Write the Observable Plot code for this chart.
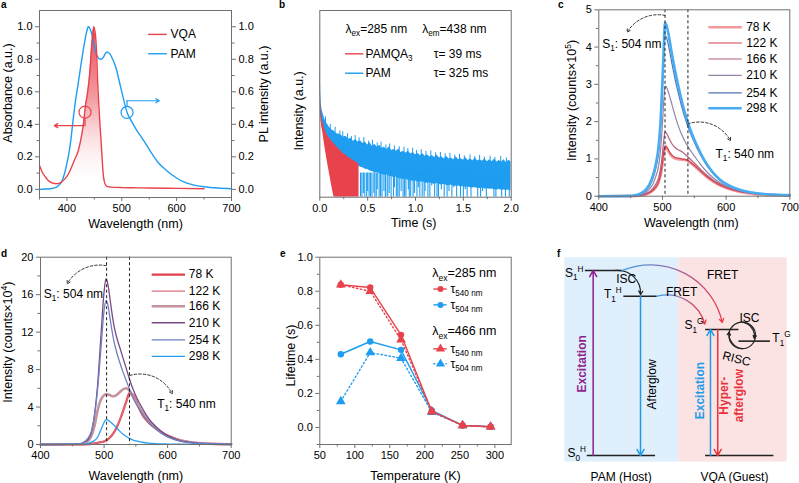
<!DOCTYPE html>
<html>
<head>
<meta charset="utf-8">
<script src="https://cdn.jsdelivr.net/npm/d3@7"></script>
<script src="https://cdn.jsdelivr.net/npm/@observablehq/plot@0.6"></script>
<style>
html,body{margin:0;padding:0;background:#fff;}
#fig{position:relative;width:799px;height:483px;overflow:hidden;background:#fff;font-family:"Liberation Sans",Arial,Helvetica,sans-serif;}
#fig svg{position:absolute;}
.pl{position:absolute;font-weight:bold;font-size:10px;line-height:10px;color:#000;}
</style>
</head>
<body>
<div id="fig"></div>
<script>
// ================= DATA =================
// Panel a: VQA absorbance, PAM photoluminescence
const aWlVQA = [350,352,355,360,365,370,375,380,385,390,395,400,405,410,415,420,425,430,434,437,440,442,444,446,448,449,450,452,454,456,458,460,462,464,466,468,470,473,476,480,490,500,520,550,600,650];
const aAbsVQA = [0.147,0.13,0.105,0.08,0.058,0.045,0.038,0.035,0.037,0.045,0.06,0.08,0.11,0.15,0.19,0.23,0.30,0.40,0.52,0.58,0.66,0.73,0.83,0.92,0.98,1.0,0.99,0.95,0.85,0.66,0.53,0.41,0.31,0.2,0.1,0.05,0.03,0.018,0.015,0.014,0.012,0.011,0.01,0.008,0.006,0.004];
const aWlPAM = [350,360,370,380,385,390,395,400,403,407,411,415,420,424,428,433,436,439,441,443,445,447,450,452,455,458,462,466,470,473,476,479,482,486,490,495,500,505,510,515,520,527,533,540,551,565,582,600,612,630,650,675,700];
const aPLPAM = [0.0,0.002,0.004,0.012,0.025,0.045,0.09,0.16,0.21,0.3,0.42,0.53,0.64,0.73,0.82,0.92,0.97,1.0,0.995,0.98,0.96,0.93,0.88,0.85,0.82,0.805,0.8,0.81,0.835,0.845,0.84,0.83,0.81,0.78,0.74,0.67,0.6,0.53,0.47,0.435,0.405,0.365,0.335,0.3,0.24,0.17,0.115,0.07,0.047,0.028,0.016,0.008,0.004];
const aFillRange = [392, 476];
const aLegend = ["VQA", "PAM"];
const aLegendY = [0.953, 0.834];

// Panel b: decay curves (time in s, relative log intensity 0..1)
const bT = [0,0.005,0.01,0.015,0.02,0.025,0.05,0.075,0.1,0.125,0.15,0.175,0.2,0.225,0.25,0.275,0.3,0.325,0.35,0.375,0.4,0.425,0.45,0.475,0.5,0.525,0.55,0.575,0.6,0.625,0.65,0.675,0.7,0.725,0.75,0.775,0.8,0.825,0.85,0.875,0.9,0.925,0.95,0.975,1.0,1.025,1.05,1.075,1.1,1.125,1.15,1.175,1.2,1.225,1.25,1.275,1.3,1.325,1.35,1.375,1.4,1.425,1.45,1.475,1.5,1.525,1.55,1.575,1.6,1.625,1.65,1.675,1.7,1.725,1.75,1.775,1.8,1.825,1.85,1.875,1.9,1.925,1.95,1.975,2.0];
const bBlueHi = [1.0,0.68,0.56,0.5,0.48,
 0.465,0.42,0.395,0.375,0.36,0.355,0.34,0.338,0.33,0.322,
 0.326,0.31,0.316,0.3,0.308,0.295,0.302,0.288,0.296,0.28,
 0.292,0.272,0.284,0.268,0.278,0.262,0.268,0.256,0.27,0.25,
 0.256,0.246,0.258,0.24,0.246,0.236,0.248,0.232,0.24,0.228,
 0.236,0.222,0.234,0.22,0.228,0.215,0.224,0.212,0.226,0.21,
 0.216,0.205,0.22,0.205,0.21,0.2,0.216,0.2,0.207,0.198,
 0.212,0.196,0.204,0.195,0.21,0.194,0.2,0.192,0.206,0.19,
 0.2,0.19,0.204,0.188,0.197,0.188,0.2,0.185,0.198,0.19];
const bBlueLo = [0.62,0.48,0.43,0.4,0.385,
 0.37,0.335,0.3,0.275,0.26,0.245,0.235,0.225,0.215,0.21,
 0.2,0.195,0.185,0.18,0.172,0.17,0.16,0.158,0.15,0.148,
 0.14,0.138,0.13,0.132,0.125,0.122,0.118,0.12,0.112,0.11,
 0.105,0.108,0.1,0.098,0.095,0.097,0.09,0.088,0.085,0.087,
 0.082,0.08,0.083,0.077,0.075,0.078,0.072,0.07,0.073,0.068,
 0.066,0.069,0.063,0.062,0.065,0.059,0.058,0.06,0.055,0.056,
 0.053,0.055,0.05,0.049,0.052,0.047,0.046,0.048,0.044,0.045,
 0.042,0.044,0.04,0.039,0.042,0.037,0.038,0.036,0.039,0.035];
// blue noise strands reaching down towards the baseline
const bSpikeT = [0.425,0.44,0.455,0.47,0.49,0.5,0.515,0.53,0.545,0.565,0.575,0.59,0.6,0.62,0.635,0.65,0.67,0.685,0.69,0.71,0.725,0.745,0.77,0.78,0.8,0.815,0.83,0.85,0.87,0.885,0.9,0.925,0.935,0.95,0.975,0.99,1.015,1.03,1.045,1.07,1.09,1.1,1.13,1.15,1.17,1.2,1.225,1.24,1.27,1.3,1.33,1.35,1.38,1.4,1.43,1.47,1.5,1.52,1.54,1.58,1.62,1.65,1.68,1.7,1.74,1.78,1.82,1.84,1.87,1.9,1.94,1.98];
const bSpikeLo = [0,0,0.02,0,0,0.03,0,0,0,0.02,0,0,0.04,0,0,0,0.03,0,0,0,0.02,0,0,0.05,0,0,0,0.03,0,0,0,0.04,0,0,0,0.02,0,0.05,0,0,0,0.03,0,0,0.06,0,0,0,0.04,0,0,0.03,0,0.05,0,0,0,0.04,0,0,0.05,0,0,0.03,0,0.06,0,0,0.04,0,0,0];
// blue noise strands poking above the band
const bUpT = [0.06,0.11,0.16,0.21,0.24,0.29,0.33,0.37,0.41,0.46,0.51,0.55,0.6,0.64,0.69,0.73,0.78,0.83,0.88,0.92,0.97,1.01,1.06,1.11,1.16,1.21,1.26,1.31,1.36,1.41,1.46,1.51,1.57,1.62,1.67,1.72,1.78,1.83,1.89,1.95];
const bUpV = [0.43,0.39,0.375,0.355,0.35,0.34,0.325,0.33,0.318,0.32,0.3,0.305,0.29,0.295,0.28,0.285,0.275,0.27,0.268,0.26,0.262,0.25,0.255,0.245,0.248,0.238,0.24,0.232,0.235,0.225,0.23,0.222,0.226,0.218,0.224,0.215,0.22,0.213,0.218,0.21];
const bRedT = [0.0,0.01,0.02,0.03,0.05,0.075,0.1,0.125,0.14,0.15,0.175,0.2,0.225,0.25,0.275,0.3,0.325,0.35,0.375,0.4,0.41];
const bRedHi = [0.75,0.5,0.44,0.41,0.37,0.335,0.318,0.3,0.29,0.285,0.272,0.258,0.245,0.232,0.225,0.212,0.206,0.196,0.19,0.18,0.176];
const bRedLo = [0.6,0.44,0.38,0.35,0.28,0.2,0.13,0.06,0.02,0,0,0,0,0,0,0,0,0,0,0,0];

// Panel c: PAMQA emission vs temperature (counts x 1e5)
const cWl = [400,450,460,465,470,475,480,485,490,494,497,500,502,504,506,510,515,520,525,530,535,540,545,550,560,570,580,590,600,620,640,660,680,700];
const c78  = [0,0.002,0.009,0.018,0.03,0.055,0.09,0.15,0.24,0.37,0.55,0.86,1.13,1.3,1.29,1.18,1.06,1.01,0.99,0.98,0.97,0.94,0.88,0.81,0.66,0.51,0.39,0.29,0.22,0.12,0.07,0.04,0.03,0.02];
const c122 = [0,0.002,0.01,0.02,0.035,0.06,0.1,0.16,0.26,0.39,0.58,0.9,1.18,1.35,1.34,1.22,1.1,1.04,1.02,1.0,0.99,0.96,0.9,0.83,0.67,0.52,0.4,0.3,0.23,0.13,0.075,0.045,0.03,0.02];
const c166 = [0,0.003,0.012,0.025,0.045,0.08,0.13,0.21,0.34,0.5,0.75,1.15,1.5,1.72,1.7,1.56,1.4,1.3,1.24,1.2,1.13,1.05,0.97,0.89,0.72,0.56,0.43,0.33,0.25,0.14,0.08,0.05,0.03,0.02];
const c210 = [0,0.005,0.02,0.04,0.07,0.12,0.2,0.33,0.55,0.82,1.25,1.95,2.55,2.95,2.93,2.75,2.45,2.15,1.88,1.66,1.48,1.33,1.2,1.08,0.85,0.65,0.49,0.37,0.28,0.16,0.09,0.055,0.035,0.025];
const c254 = [0,0.008,0.03,0.06,0.1,0.17,0.28,0.47,0.78,1.18,1.8,2.85,3.7,4.3,4.27,4.0,3.55,3.13,2.76,2.42,2.12,1.87,1.65,1.45,1.1,0.82,0.6,0.44,0.32,0.17,0.1,0.06,0.04,0.03];
const c298 = [0,0.01,0.04,0.07,0.12,0.2,0.33,0.55,0.9,1.35,2.0,3.1,4.0,4.65,4.6,4.3,3.8,3.35,2.95,2.58,2.25,1.97,1.73,1.52,1.15,0.85,0.62,0.45,0.33,0.18,0.1,0.06,0.04,0.03];
const tempLabels = ["78 K","122 K","166 K","210 K","254 K","298 K"];
const cLegendY = [4.53,4.11,3.68,3.24,2.77,2.36];

// Panel d: emission vs temperature (counts x 1e4)
const dWl = [400,460,470,475,480,485,490,495,500,503,506,510,515,520,525,530,535,540,545,550,555,560,570,580,590,600,620,640,660,680,700];
const d78  = [0,0,0.02,0.04,0.07,0.12,0.18,0.25,0.33,0.42,0.55,0.8,1.25,1.85,2.65,3.6,4.6,5.5,5.35,4.75,3.9,3.2,2.35,1.8,1.32,0.95,0.45,0.21,0.1,0.05,0.03];
const d122 = [0,0,0.02,0.04,0.07,0.12,0.19,0.27,0.36,0.45,0.58,0.85,1.3,1.9,2.7,3.6,4.55,5.35,5.3,4.7,3.95,3.25,2.35,1.75,1.28,0.92,0.43,0.2,0.1,0.05,0.03];
const d166 = [0,0.02,0.15,0.4,0.9,2.0,3.7,4.8,5.25,5.35,5.35,5.25,5.15,5.3,5.6,5.9,6.0,5.75,5.2,4.55,4.0,3.5,2.6,1.9,1.3,0.9,0.42,0.2,0.1,0.05,0.03];
const d210 = [0,0.05,0.3,0.55,1.3,3.2,6.5,11.5,16.3,17.7,17.1,15.2,12.9,11.4,10.3,9.2,8.1,7.0,6.0,5.2,4.5,3.9,2.8,2.0,1.4,0.95,0.42,0.2,0.1,0.05,0.03];
const d254 = [0,0.06,0.35,0.7,1.4,3.1,6.0,10.2,14.3,15.4,14.9,13.2,11.2,9.8,8.7,7.7,6.8,5.9,5.1,4.4,3.8,3.3,2.4,1.7,1.2,0.8,0.36,0.16,0.08,0.04,0.02];
const d298 = [0,0.01,0.05,0.12,0.25,0.42,0.8,1.55,2.35,2.65,2.6,2.4,2.1,1.75,1.4,1.1,0.85,0.65,0.5,0.38,0.3,0.24,0.15,0.1,0.07,0.05,0.03,0.02,0.01,0.01,0];
const dLegendY = [18.15,16.37,14.77,13.0,11.18,9.4];

// Panel e: lifetimes
const eT = [80,122,166,210,254,294];
const tau540ex285 = [0.838,0.822,0.544,0.094,0.012,0.004];
const tau504ex285 = [0.43,0.505,0.456,0.1,0.012,0.004];
const tau540ex466 = [0.838,0.8,0.515,0.094,0.012,0.004];
const tau504ex466 = [0.153,0.44,0.407,0.09,0.012,0.004];

// Panel f: energy diagram (arbitrary units)
const fLevels = [
  {name:"S1H", x1:20.4, x2:34.1, e:93.8},
  {name:"T1H", x1:34.7, x2:47.1, e:81.2},
  {name:"S0H", x1:21.1, x2:46.5, e:3.2},
  {name:"S1G", x1:65.1, x2:77.5, e:64.9},
  {name:"T1G", x1:77.5, x2:89.2, e:59.2},
  {name:"S0G", x1:65.1, x2:90.5, e:3.2}
];
const fLevelLabels = [
  {t:"S_{1}^{H}", x:19.7, y:92.6, a:"end"},
  {t:"T_{1}^{H}", x:33.9, y:82.0, a:"end"},
  {t:"S_{0}^{H}", x:20.6, y:4.2, a:"end"},
  {t:"S_{1}^{G}", x:64.3, y:66.9, a:"end"},
  {t:"T_{1}^{G}", x:89.9, y:60.5, a:"start"}
];

// ================= DRAWING =================
const FONT = '"Liberation Sans", Arial, Helvetica, sans-serif';
const GRAY = "#707070";
const RED = "#e8434c", BLUE = "#1f9df0";
const f1 = d3.format(".1f");
const STYLE = {fontFamily: FONT, fontSize: "11px", background: "transparent", overflow: "visible", color: "#000"};
const fig = document.getElementById("fig");

function richText(el) {
  const s = el.textContent;
  if (!/[_^]\{/.test(s)) return;
  const fs = parseFloat(getComputedStyle(el).fontSize) || 11;
  while (el.firstChild) el.removeChild(el.firstChild);
  const re = /([_^])\{([^}]*)\}/g;
  let last = 0, cur = 0, m;
  const add = (txt, off, small) => {
    const t = document.createElementNS("http://www.w3.org/2000/svg", "tspan");
    t.textContent = txt;
    const dy = off - cur;
    if (Math.abs(dy) > 1e-6) t.setAttribute("dy", dy.toFixed(2));
    if (small) t.setAttribute("font-size", (fs * 0.68).toFixed(2));
    el.appendChild(t);
    cur = off;
  };
  while ((m = re.exec(s))) {
    if (m.index > last) add(s.slice(last, m.index), 0, false);
    add(m[2], m[1] === "_" ? fs * 0.28 : -fs * 0.42, true);
    last = re.lastIndex;
  }
  if (last < s.length) add(s.slice(last), 0, false);
}
function place(svg, left, top) {
  svg.style.position = "absolute";
  svg.style.left = left + "px";
  svg.style.top = top + "px";
  fig.appendChild(svg);
  svg.querySelectorAll("text").forEach(t => { if (t.children.length === 0) richText(t); });
  return svg;
}
function addGradient(svg, id, x2, y2, stops) {
  const defs = d3.select(svg).insert("defs", ":first-child");
  const g = defs.append("linearGradient").attr("id", id).attr("x1", 0).attr("y1", 0).attr("x2", x2).attr("y2", y2);
  stops.forEach(([o, c, op]) => g.append("stop").attr("offset", o).attr("stop-color", c).attr("stop-opacity", op));
}
function xAxis(ticks, minor, fmt) {
  return [
    Plot.axisX({ticks: minor, tickSize: 2.5, tickFormat: () => "", stroke: GRAY, label: null}),
    Plot.axisX({ticks, tickSize: 4, tickPadding: 3, tickFormat: fmt, stroke: GRAY, label: null})
  ];
}
function yAxis(ticks, minor, fmt, anchor = "left") {
  return [
    Plot.axisY({anchor, ticks: minor, tickSize: 2.5, tickFormat: () => "", stroke: GRAY, label: null}),
    Plot.axisY({anchor, ticks, tickSize: 4, tickPadding: 3, tickFormat: fmt, stroke: GRAY, label: null})
  ];
}
function titleX(s, dy, dx = 0) {
  return Plot.text([s], {text: d => d, frameAnchor: "bottom", dx, dy, fontSize: 12.5, textAnchor: "middle", lineAnchor: "middle"});
}
function titleY(s, dx, dy = 0, anchor = "left") {
  return Plot.text([s], {text: d => d, frameAnchor: anchor, dx, dy, rotate: -90, fontSize: 12.5, textAnchor: "middle", lineAnchor: "middle"});
}
const frame = () => Plot.frame({stroke: GRAY, strokeWidth: 1});
const T = (s, x, y, o = {}) => Plot.text([s], {text: d => d, x, y, textAnchor: "start", fontSize: 12, ...o});

// ---------- Panel a ----------
{
  const fillIdx = aWlVQA.map((w, i) => i).filter(i => aWlVQA[i] >= aFillRange[0] && aWlVQA[i] <= aFillRange[1]);
  const svg = Plot.plot({
    width: 270, height: 240, marginLeft: 39, marginRight: 39, marginTop: 10, marginBottom: 43,
    style: STYLE,
    x: {domain: [350, 700]}, y: {domain: [-0.05, 1.1]},
    marks: [
      Plot.areaY(fillIdx, {x: i => aWlVQA[i], y: i => aAbsVQA[i], fill: "url(#gradA)", curve: "monotone-x"}),
      Plot.lineY(aPLPAM, {x: aWlPAM, stroke: BLUE, strokeWidth: 1.4, curve: "monotone-x"}),
      Plot.lineY(aAbsVQA, {x: aWlVQA, stroke: RED, strokeWidth: 1.4, curve: "monotone-x"}),
      Plot.dot([0], {x: 433, y: 0.475, r: 6, stroke: RED, fill: "none", strokeWidth: 1.2}),
      Plot.dot([0], {x: 509.6, y: 0.473, r: 6, stroke: BLUE, fill: "none", strokeWidth: 1.2}),
      Plot.ruleX([0], {x: 433, y1: 0.438, y2: 0.392, stroke: RED, strokeWidth: 1.2}),
      Plot.arrow([0], {x1: 433, y1: 0.392, x2: 377, y2: 0.392, stroke: RED, strokeWidth: 1.2, headLength: 5}),
      Plot.ruleX([0], {x: 509.6, y1: 0.51, y2: 0.545, stroke: BLUE, strokeWidth: 1.2}),
      Plot.arrow([0], {x1: 509.6, y1: 0.545, x2: 568.4, y2: 0.545, stroke: BLUE, strokeWidth: 1.2, headLength: 5}),
      Plot.ruleY([aLegendY[0]], {x1: 549, x2: 583, stroke: RED, strokeWidth: 1.4}),
      Plot.ruleY([aLegendY[1]], {x1: 549, x2: 583, stroke: BLUE, strokeWidth: 1.4}),
      Plot.text(aLegend, {text: d => d, x: 589, y: aLegendY, textAnchor: "start", fontSize: 12}),
      frame(),
      ...xAxis([400, 500, 600, 700], [350, 450, 550, 650], d => d),
      ...yAxis([0, 0.2, 0.4, 0.6, 0.8, 1.0], [0.1, 0.3, 0.5, 0.7, 0.9], f1),
      ...yAxis([0, 0.2, 0.4, 0.6, 0.8, 1.0], [0.1, 0.3, 0.5, 0.7, 0.9], f1, "right"),
      titleX("Wavelength (nm)", 26),
      titleY("Absorbance (a.u.)", -31.7, -11),
      titleY("PL intensity (a.u.)", 32.3, -10, "right")
    ]
  });
  addGradient(svg, "gradA", 0, 1, [[0, RED, 1], [0.45, "#f07d84", 0.75], [1, "#ffffff", 0.0]]);
  place(svg, 0, 0);
}

// ---------- Panel b ----------
{
  const svg = Plot.plot({
    width: 270, height: 240, marginLeft: 54.3, marginRight: 24.3, marginTop: 10, marginBottom: 43.3,
    style: STYLE,
    x: {domain: [0, 2]}, y: {domain: [0, 1], axis: null},
    marks: [
      Plot.areaY(bT, {x: bT, y1: bBlueLo, y2: bBlueHi, fill: BLUE, clip: true}),
      Plot.ruleX(bSpikeT, {x: d => d, y1: bSpikeLo, y2: 0.13, stroke: BLUE, strokeWidth: 1.1, clip: true}),
      Plot.ruleX(bUpT, {x: d => d, y1: bUpV.map(v => v - 0.04), y2: bUpV, stroke: BLUE, strokeWidth: 1, clip: true}),
      Plot.areaY(bRedT, {x: bRedT, y1: bRedLo, y2: bRedHi, fill: RED, clip: true}),
      T("λ_{ex}=285 nm", 0.269, 0.902),
      T("λ_{em}=438 nm", 1.07, 0.902),
      Plot.ruleY([0.768], {x1: 0.269, x2: 0.46, stroke: RED, strokeWidth: 1.4}),
      Plot.ruleY([0.664], {x1: 0.269, x2: 0.46, stroke: BLUE, strokeWidth: 1.4}),
      T("PAMQA_{3}", 0.478, 0.768),
      T("PAM", 0.478, 0.664),
      T("τ= 39 ms", 1.191, 0.768),
      T("τ= 325 ms", 1.191, 0.664),
      frame(),
      ...xAxis([0, 0.5, 1.0, 1.5, 2.0], [0.25, 0.75, 1.25, 1.75], f1),
      titleX("Time (s)", 26, -1.7),
      titleY("Intensity (a.u.)", -21, 7)
    ]
  });
  place(svg, 265, 0);
}

// ---------- Panel c ----------
{
  const series = [
    {v: c78, c: "#f39a9d", w: 2.6},
    {v: c122, c: "#d23f4e", w: 1.2},
    {v: c166, c: "#b5607a", w: 1.2},
    {v: c210, c: "#9383a6", w: 1.2},
    {v: c254, c: "#5570b3", w: 1.2},
    {v: c298, c: "#48acf2", w: 2.6}
  ];
  const svg = Plot.plot({
    width: 269, height: 240, marginLeft: 68.3, marginRight: 9.7, marginTop: 9.3, marginBottom: 44.3,
    style: STYLE,
    x: {domain: [400, 700]}, y: {domain: [0, 5]},
    marks: [
      ...series.map(s => Plot.lineY(s.v, {x: cWl, stroke: s.c, strokeWidth: s.w, curve: "monotone-x"})),
      Plot.ruleX([504, 540], {x: d => d, stroke: "#222", strokeDasharray: "3,2.5", strokeWidth: 1}),
      Plot.arrow([0], {x1: 504, y1: 4.85, x2: 444.6, y2: 4.4, bend: -35, stroke: "#333", strokeDasharray: "2.5,2", strokeWidth: 1, headLength: 5}),
      Plot.arrow([0], {x1: 539.8, y1: 1.94, x2: 606.8, y2: 1.49, bend: 40, stroke: "#333", strokeDasharray: "2.5,2", strokeWidth: 1, headLength: 5}),
      T("S_{1}: 504 nm", 405.3, 4.09),
      T("T_{1}: 540 nm", 583.3, 1.14),
      ...series.map((s, i) => Plot.ruleY([cLegendY[i]], {x1: 572.8, x2: 625.3, stroke: s.c, strokeWidth: s.w})),
      Plot.text(tempLabels, {text: d => d, x: 631.5, y: cLegendY, textAnchor: "start", fontSize: 12}),
      frame(),
      ...xAxis([400, 500, 600, 700], [450, 550, 650], d => d),
      ...yAxis([0, 1, 2, 3, 4, 5], [0.5, 1.5, 2.5, 3.5, 4.5], d => d),
      titleX("Wavelength (nm)", 27, -3),
      titleY("Intensity (counts×10^{5})", -26.6, -2.5)
    ]
  });
  place(svg, 530, 0);
}

// ---------- Panel d ----------
{
  const series = [
    {v: d78, c: "#e2404c", w: 2.2},
    {v: d122, c: "#d9707e", w: 1.3},
    {v: d166, c: "#c4949e", w: 2.6},
    {v: d210, c: "#7a4a84", w: 1.3},
    {v: d254, c: "#6f7fbf", w: 1.3},
    {v: d298, c: "#2a9ff2", w: 1.3}
  ];
  const svg = Plot.plot({
    width: 270, height: 243, marginLeft: 40, marginRight: 39.3, marginTop: 16.7, marginBottom: 39,
    style: STYLE,
    x: {domain: [400, 700]}, y: {domain: [0, 20]},
    marks: [
      ...series.map(s => Plot.lineY(s.v, {x: dWl, stroke: s.c, strokeWidth: s.w, curve: "monotone-x"})),
      Plot.ruleX([504, 540], {x: d => d, stroke: "#222", strokeDasharray: "3,2.5", strokeWidth: 1}),
      Plot.arrow([0], {x1: 503.3, y1: 19.1, x2: 442, y2: 17.16, bend: -35, stroke: "#333", strokeDasharray: "2.5,2", strokeWidth: 1, headLength: 5}),
      Plot.arrow([0], {x1: 540.5, y1: 7.37, x2: 607.2, y2: 5.41, bend: 40, stroke: "#333", strokeDasharray: "2.5,2", strokeWidth: 1, headLength: 5}),
      T("S_{1}: 504 nm", 405.2, 16.1),
      T("T_{1}: 540 nm", 583.6, 4.35),
      ...series.map((s, i) => Plot.ruleY([dLegendY[i]], {x1: 575.7, x2: 628.1, stroke: s.c, strokeWidth: s.w})),
      Plot.text(tempLabels, {text: d => d, x: 633.3, y: dLegendY, textAnchor: "start", fontSize: 12}),
      frame(),
      ...xAxis([400, 500, 600, 700], [450, 550, 650], d => d),
      ...yAxis([0, 4, 8, 12, 16, 20], [2, 6, 10, 14, 18], d => d),
      titleX("Wavelength (nm)", 31),
      titleY("Intensity (counts×10^{4})", -32.7, -8.7)
    ]
  });
  place(svg, 0, 240);
}

// ---------- Panel e ----------
{
  const svg = Plot.plot({
    width: 270, height: 243, marginLeft: 54.3, marginRight: 24.3, marginTop: 16.7, marginBottom: 39,
    style: STYLE,
    x: {domain: [50, 323.4]}, y: {domain: [-0.1, 1.0]},
    marks: [
      Plot.lineY(tau504ex466, {x: eT, stroke: BLUE, strokeWidth: 1.4, strokeDasharray: "1.5,2.5"}),
      Plot.dot(tau504ex466, {x: eT, y: d => d, symbol: "triangle", fill: BLUE, r: 3.6}),
      Plot.lineY(tau504ex285, {x: eT, stroke: BLUE, strokeWidth: 1.4}),
      Plot.dot(tau504ex285, {x: eT, y: d => d, fill: BLUE, r: 3.2}),
      Plot.lineY(tau540ex466, {x: eT, stroke: RED, strokeWidth: 1.4, strokeDasharray: "1.5,2.5"}),
      Plot.dot(tau540ex466, {x: eT, y: d => d, symbol: "triangle", fill: RED, r: 3.6}),
      Plot.lineY(tau540ex285, {x: eT, stroke: RED, strokeWidth: 1.4}),
      Plot.dot(tau540ex285, {x: eT, y: d => d, fill: RED, r: 3.2}),
      T("λ_{ex}=285 nm", 210.6, 0.907, {fontSize: 12.5}),
      Plot.ruleY([0.813], {x1: 212.9, x2: 232, stroke: RED, strokeWidth: 1.4}),
      Plot.dot([0], {x: 222.4, y: 0.813, fill: RED, r: 3}),
      T("τ_{540 nm}", 236.7, 0.813),
      Plot.ruleY([0.72], {x1: 212.9, x2: 232, stroke: BLUE, strokeWidth: 1.4}),
      Plot.dot([0], {x: 222.4, y: 0.72, fill: BLUE, r: 3}),
      T("τ_{504 nm}", 236.7, 0.72),
      T("λ_{ex}=466 nm", 210.6, 0.564, {fontSize: 12.5}),
      Plot.ruleY([0.462], {x1: 212.9, x2: 232, stroke: RED, strokeWidth: 1.4}),
      Plot.dot([0], {x: 222.4, y: 0.462, fill: RED, r: 3.4, symbol: "triangle"}),
      T("τ_{540 nm}", 236.7, 0.462),
      Plot.ruleY([0.374], {x1: 212.9, x2: 232, stroke: BLUE, strokeWidth: 1.4, strokeDasharray: "2,2"}),
      Plot.dot([0], {x: 222.4, y: 0.374, fill: BLUE, r: 3.4, symbol: "triangle"}),
      T("τ_{504 nm}", 236.7, 0.374),
      frame(),
      ...xAxis([50, 100, 150, 200, 250, 300], [75, 125, 175, 225, 275], d => d),
      ...yAxis([0, 0.2, 0.4, 0.6, 0.8, 1.0], [-0.1, 0.1, 0.3, 0.5, 0.7, 0.9], f1),
      titleX("Temperature (K)", 31),
      titleY("Lifetime (s)", -29.3, 4.7)
    ]
  });
  place(svg, 265, 240);
}

// ---------- Panel f ----------
{
  const PURPLE = "#8e1f8f", FBLUE = "#1e9ce8", FRED = "#e8343e";
  const svg = Plot.plot({
    width: 269, height: 243, marginLeft: 0, marginRight: 0, marginTop: 17.3, marginBottom: 0,
    style: STYLE,
    x: {domain: [0, 100], axis: null}, y: {domain: [-10.5, 100], axis: null},
    marks: [
      Plot.rect([0], {x1: 12.75, x2: 55.1, y1: 0, y2: 100, fill: "#dfeffb"}),
      Plot.rect([0], {x1: 55.1, x2: 95.4, y1: 0, y2: 100, fill: "#fbe3e3"}),
      Plot.ruleY(fLevels, {y: "e", x1: "x1", x2: "x2", stroke: "#222", strokeWidth: 1.6}),
      Plot.arrow([0], {x1: 23.3, y1: 3.2, x2: 23.3, y2: 93.8, stroke: PURPLE, strokeWidth: 1.5, headLength: 7}),
      Plot.arrow([0], {x1: 40.9, y1: 81.2, x2: 40.9, y2: 3.2, stroke: FBLUE, strokeWidth: 1.5, headLength: 7}),
      Plot.arrow([0], {x1: 66.9, y1: 3.2, x2: 66.9, y2: 64.9, stroke: FBLUE, strokeWidth: 1.5, headLength: 7}),
      Plot.arrow([0], {x1: 69.6, y1: 64.9, x2: 69.6, y2: 3.2, stroke: FRED, strokeWidth: 1.5, headLength: 7}),
      Plot.arrow([0], {x1: 31.6, y1: 93.8, x2: 40.9, y2: 82.0, bend: 50, stroke: "#222", strokeWidth: 1.2, headLength: 5}),
      Plot.arrow([0], {x1: 34.1, y1: 93.8, x2: 71.3, y2: 68.3, bend: 50, stroke: "url(#fretGrad)", strokeWidth: 1.3, headLength: 5}),
      Plot.arrow([0], {x1: 47.1, y1: 81.2, x2: 64.8, y2: 67.5, bend: 45, stroke: "url(#fretGrad)", strokeWidth: 1.3, headLength: 5}),
      Plot.dot([0], {x: 78.7, y: 62.0, r: 13.3, stroke: "#222", fill: "none", strokeWidth: 1.2}),
      Plot.arrow([0], {x1: 78.7, y1: 68.5, x2: 83.2, y2: 60.5, bend: 45, stroke: "#222", strokeWidth: 1.2, headLength: 4}),
      Plot.arrow([0], {x1: 78.7, y1: 55.5, x2: 73.85, y2: 63.6, bend: 45, stroke: "#222", strokeWidth: 1.2, headLength: 4}),
      ...fLevelLabels.map(l => Plot.text([l.t], {text: d => d, x: l.x, y: l.y, textAnchor: l.a, fontSize: 12})),
      Plot.text(["ISC"], {text: d => d, x: 35.6, y: 89.6, fontSize: 12}),
      Plot.text(["FRET"], {text: d => d, x: 71.4, y: 91.3, fontSize: 12}),
      Plot.text(["FRET"], {text: d => d, x: 56.2, y: 83.2, fontSize: 12}),
      Plot.text(["ISC"], {text: d => d, x: 81.4, y: 70.6, fontSize: 12}),
      Plot.text(["RISC"], {text: d => d, x: 76.6, y: 50.5, fontSize: 12, rotate: 15}),
      Plot.text(["Excitation"], {text: d => d, x: 19.1, y: 48.1, fontSize: 12, fontWeight: "bold", fill: PURPLE, rotate: -90}),
      Plot.text(["Afterglow"], {text: d => d, x: 45.3, y: 38.0, fontSize: 12, rotate: -90}),
      Plot.text(["Excitation"], {text: d => d, x: 63.2, y: 35.0, fontSize: 12, fontWeight: "bold", fill: FBLUE, rotate: -90}),
      Plot.text(["Hyper-\nafterglow"], {text: d => d, x: 74.6, y: 32.5, fontSize: 12, fontWeight: "bold", fill: FRED, rotate: -90, lineHeight: 1.25}),
      Plot.text(["PAM (Host)"], {text: d => d, x: 33.7, y: -7.4, fontSize: 12}),
      Plot.text(["VQA (Guest)"], {text: d => d, x: 75.8, y: -7.4, fontSize: 12})
    ]
  });
  addGradient(svg, "fretGrad", 1, 0, [[0, "#3a9fe6", 1], [0.5, "#9a6aa8", 1], [1, "#ee3c48", 1]]);
  place(svg, 530, 240);
}

// ---------- Panel letters ----------
[["a", 1, 0], ["b", 279, 0], ["c", 558, 0], ["d", 1, 249], ["e", 280, 249], ["f", 557, 249]].forEach(([s, x, y]) => {
  const el = document.createElement("div");
  el.className = "pl"; el.textContent = s;
  el.style.left = x + "px"; el.style.top = y + "px";
  fig.appendChild(el);
});
</script>
</body>
</html>
